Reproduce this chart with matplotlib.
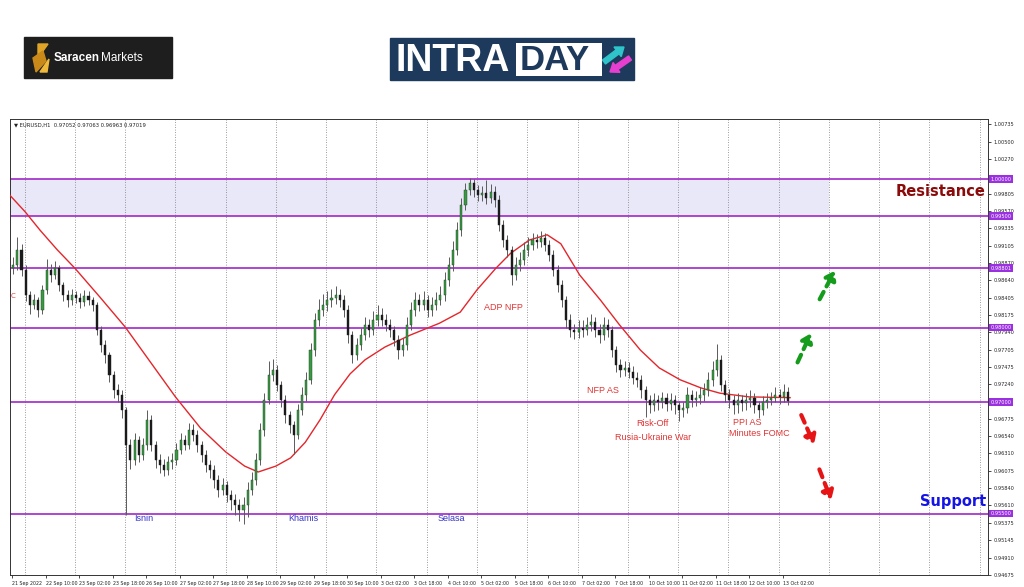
import numpy as np
import matplotlib
matplotlib.use("Agg")
import matplotlib.pyplot as plt
from matplotlib.patches import Rectangle, Polygon, FancyArrow

# EURUSD H1, candles grouped by 2 hours
closes = [0.9884, 0.9905, 0.9878, 0.9844, 0.9831, 0.9837, 0.9824, 0.9851, 0.9878, 0.9871,
          0.9880, 0.9857, 0.9844, 0.9837, 0.9844, 0.9840, 0.9835, 0.9843, 0.9837, 0.9831,
          0.9797, 0.9777, 0.9763, 0.9736, 0.9716, 0.9710, 0.9689, 0.9642, 0.9622, 0.9649,
          0.9629, 0.9642, 0.9676, 0.9642, 0.9622, 0.9615, 0.9609, 0.9619, 0.9622, 0.9636,
          0.9649, 0.9642, 0.9662, 0.9656, 0.9642, 0.9629, 0.9615, 0.9609, 0.9595, 0.9582,
          0.9588, 0.9575, 0.9568, 0.9562, 0.9555, 0.9562, 0.9582, 0.9595, 0.9622, 0.9662,
          0.9703, 0.9736, 0.9743, 0.9723, 0.9703, 0.9682, 0.9669, 0.9656, 0.9689, 0.9710,
          0.9730, 0.9770, 0.9810, 0.9824, 0.9831, 0.9837, 0.9840, 0.9844, 0.9837, 0.9824,
          0.9790, 0.9763, 0.9777, 0.9790, 0.9804, 0.9797, 0.9810, 0.9817, 0.9810, 0.9804,
          0.9797, 0.9784, 0.9770, 0.9777, 0.9804, 0.9824, 0.9837, 0.9831, 0.9837, 0.9824,
          0.9831, 0.9837, 0.9844, 0.9864, 0.9884, 0.9905, 0.9931, 0.9965, 0.9985, 0.9995,
          0.9985, 0.9978, 0.9981, 0.9975, 0.9983, 0.9972, 0.9938, 0.9918, 0.9905, 0.9871,
          0.9884, 0.9891, 0.9905, 0.9911, 0.9918, 0.9915, 0.9921, 0.9911, 0.9898, 0.9878,
          0.9857, 0.9837, 0.9810, 0.9797, 0.9794, 0.9800, 0.9797, 0.9804, 0.9808, 0.9797,
          0.9790, 0.9804, 0.9797, 0.9770, 0.9750, 0.9743, 0.9746, 0.9741, 0.9733, 0.9730,
          0.9716, 0.9703, 0.9696, 0.9703, 0.9700, 0.9705, 0.9697, 0.9703, 0.9696, 0.9689,
          0.9692, 0.9710, 0.9703, 0.9705, 0.9710, 0.9716, 0.9730, 0.9743, 0.9757, 0.9723,
          0.9710, 0.9703, 0.9696, 0.9703, 0.9699, 0.9703, 0.9705, 0.9696, 0.9689, 0.9700,
          0.9703, 0.9705, 0.9710, 0.9707, 0.9714, 0.9702]
highs = [0.9895, 0.9922, 0.9912, 0.9884, 0.9850, 0.9846, 0.9842, 0.9858, 0.9893, 0.9886,
         0.9890, 0.9884, 0.9862, 0.9851, 0.9852, 0.9850, 0.9847, 0.9851, 0.9849, 0.9842,
         0.9835, 0.9803, 0.9783, 0.9768, 0.9742, 0.9725, 0.9716, 0.9694, 0.9650, 0.9658,
         0.9655, 0.9652, 0.9690, 0.9682, 0.9648, 0.9630, 0.9624, 0.9628, 0.9632, 0.9645,
         0.9658, 0.9656, 0.9672, 0.9670, 0.9662, 0.9648, 0.9635, 0.9622, 0.9615, 0.9602,
         0.9598, 0.9594, 0.9582, 0.9576, 0.9570, 0.9572, 0.9592, 0.9606, 0.9632, 0.9672,
         0.9712, 0.9755, 0.9758, 0.9750, 0.9728, 0.9710, 0.9688, 0.9675, 0.9698, 0.9720,
         0.9740, 0.9780, 0.9820, 0.9838, 0.9845, 0.9850, 0.9852, 0.9856, 0.9852, 0.9844,
         0.9830, 0.9796, 0.9786, 0.9800, 0.9815, 0.9812, 0.9822, 0.9830, 0.9826, 0.9818,
         0.9812, 0.9803, 0.9790, 0.9786, 0.9814, 0.9834, 0.9848, 0.9846, 0.9849, 0.9844,
         0.9842, 0.9848, 0.9856, 0.9875, 0.9895, 0.9916, 0.9942, 0.9975, 0.9995, 1.0001,
         1.0000, 0.9992, 0.9990, 0.9998, 0.9993, 0.9990, 0.9978, 0.9945, 0.9925, 0.9910,
         0.9895, 0.9902, 0.9915, 0.9922, 0.9928, 0.9926, 0.9930, 0.9927, 0.9918, 0.9905,
         0.9884, 0.9864, 0.9843, 0.9818, 0.9805, 0.9810, 0.9810, 0.9815, 0.9818, 0.9815,
         0.9805, 0.9815, 0.9812, 0.9803, 0.9776, 0.9758, 0.9755, 0.9754, 0.9748, 0.9740,
         0.9736, 0.9722, 0.9710, 0.9712, 0.9710, 0.9714, 0.9712, 0.9712, 0.9710, 0.9702,
         0.9700, 0.9720, 0.9716, 0.9715, 0.9720, 0.9726, 0.9740, 0.9755, 0.9778, 0.9764,
         0.9730, 0.9718, 0.9710, 0.9712, 0.9710, 0.9712, 0.9716, 0.9712, 0.9702, 0.9708,
         0.9712, 0.9714, 0.9720, 0.9718, 0.9724, 0.9720]
lows = [0.9872, 0.9878, 0.9870, 0.9836, 0.9818, 0.9825, 0.9815, 0.9818, 0.9845, 0.9862,
        0.9865, 0.9850, 0.9836, 0.9828, 0.9831, 0.9833, 0.9827, 0.9829, 0.9830, 0.9822,
        0.9790, 0.9768, 0.9752, 0.9727, 0.9705, 0.9700, 0.9678, 0.9548, 0.9610, 0.9615,
        0.9620, 0.9622, 0.9636, 0.9634, 0.9612, 0.9604, 0.9600, 0.9602, 0.9610, 0.9615,
        0.9630, 0.9635, 0.9637, 0.9648, 0.9633, 0.9620, 0.9606, 0.9598, 0.9585, 0.9572,
        0.9575, 0.9565, 0.9555, 0.9548, 0.9540, 0.9536, 0.9545, 0.9575, 0.9588, 0.9615,
        0.9655, 0.9698, 0.9728, 0.9715, 0.9694, 0.9672, 0.9658, 0.9630, 0.9650, 0.9682,
        0.9702, 0.9724, 0.9762, 0.9802, 0.9816, 0.9822, 0.9828, 0.9832, 0.9828, 0.9815,
        0.9780, 0.9752, 0.9756, 0.9770, 0.9783, 0.9788, 0.9790, 0.9802, 0.9802, 0.9795,
        0.9788, 0.9775, 0.9758, 0.9762, 0.9770, 0.9797, 0.9816, 0.9822, 0.9824, 0.9815,
        0.9816, 0.9824, 0.9830, 0.9836, 0.9856, 0.9876, 0.9898, 0.9924, 0.9958, 0.9978,
        0.9976, 0.9970, 0.9970, 0.9966, 0.9968, 0.9962, 0.9930, 0.9908, 0.9895, 0.9858,
        0.9864, 0.9876, 0.9884, 0.9897, 0.9904, 0.9907, 0.9908, 0.9903, 0.9890, 0.9870,
        0.9848, 0.9828, 0.9800, 0.9788, 0.9785, 0.9786, 0.9788, 0.9790, 0.9796, 0.9788,
        0.9780, 0.9783, 0.9788, 0.9760, 0.9740, 0.9734, 0.9735, 0.9732, 0.9724, 0.9720,
        0.9706, 0.9680, 0.9686, 0.9688, 0.9690, 0.9692, 0.9688, 0.9689, 0.9684, 0.9674,
        0.9680, 0.9686, 0.9694, 0.9695, 0.9698, 0.9702, 0.9708, 0.9722, 0.9735, 0.9715,
        0.9700, 0.9692, 0.9684, 0.9686, 0.9688, 0.9690, 0.9694, 0.9685, 0.9678, 0.9682,
        0.9692, 0.9696, 0.9700, 0.9698, 0.9700, 0.9696]
first_open = 0.9880

# moving average (red line): bar index, price
ma_bar = [-1, 6.2, 13.4, 21.5, 30, 42, 54, 66, 78, 90, 102, 111, 117.5, 126, 133, 140,
          147, 154, 161.4, 168.6, 178, 190, 204, 214, 222, 231, 238, 247, 255.5, 262, 271,
          281, 290, 300, 309, 319, 329, 338, 352, 371.5]
ma_val = [0.9978, 0.9956, 0.9931, 0.9905, 0.9880, 0.9841, 0.9801, 0.9754, 0.9707, 0.9665,
          0.9633, 0.9614, 0.9606, 0.9614, 0.9625, 0.9646, 0.9676, 0.9710, 0.9738, 0.9757,
          0.9774, 0.9790, 0.9806, 0.9821, 0.9851, 0.9880, 0.9900, 0.9918, 0.9925, 0.9913,
          0.9871, 0.9837, 0.9804, 0.9770, 0.9746, 0.9730, 0.9719, 0.9712, 0.9707, 0.9706]

levels = [1.00000, 0.99500, 0.98801, 0.98000, 0.97000, 0.95500]
level_labels = ["1.00000", "0.99500", "0.98801", "0.98000", "0.97000", "0.95500"]
resist_zone = (0.99500, 1.00000)

ytick_vals = [1.00735, 1.00500, 1.00270, 0.99805, 0.99570, 0.99335, 0.99105, 0.98870,
              0.98640, 0.98405, 0.98175, 0.97940, 0.97705, 0.97475, 0.97240, 0.96775,
              0.96540, 0.96310, 0.96075, 0.95840, 0.95610, 0.95375, 0.95145, 0.94910, 0.94675]

xtick_labels = ["21 Sep 2022", "22 Sep 10:00", "23 Sep 02:00", "23 Sep 18:00", "26 Sep 10:00",
                "27 Sep 02:00", "27 Sep 18:00", "28 Sep 10:00", "29 Sep 02:00", "29 Sep 18:00",
                "30 Sep 10:00", "3 Oct 02:00", "3 Oct 18:00", "4 Oct 10:00", "5 Oct 02:00",
                "5 Oct 18:00", "6 Oct 10:00", "7 Oct 02:00", "7 Oct 18:00", "10 Oct 10:00",
                "11 Oct 02:00", "11 Oct 18:00", "12 Oct 10:00", "13 Oct 02:00"]
bars_per_label = 16
bars_per_candle = 2

# notes on the chart (bar index, price, text)
day_notes = [(62.6, "Isnin"), (139, "Khamis"), (209.6, "Selasa")]
day_note_price = 0.9543
news_notes = [(234.5, 0.9827, "ADP NFP"), (282, 0.9716, "NFP AS"), (306, 0.9671, "Risk-Off"),
              (306, 0.9653, "Rusia-Ukraine War"), (351, 0.9673, "PPI AS"),
              (357, 0.9658, "Minutes FOMC")]
up_arrows = [((374.5, 0.9750), (382, 0.9796)), ((385, 0.9835), (393.5, 0.9880))]
down_arrows = [((376.3, 0.9686), (383.5, 0.9640)), ((385, 0.9613), (391.6, 0.9565))]

fig = plt.figure(figsize=(10.24, 5.87), dpi=100)
fig.patch.set_facecolor("white")

# ---- logos on top (pixel coords) ----
lg = fig.add_axes([0, 0, 1, 1])
lg.set_xlim(0, 1024)
lg.set_ylim(587, 0)
lg.axis("off")
lg.add_patch(Rectangle((24, 37), 148, 41, color="#1e1e1e"))
lg.add_patch(Polygon([(38, 44), (48, 44), (38, 58)], color="#e0a526"))
lg.add_patch(Polygon([(33, 58), (43, 51), (46, 61), (36, 72)], color="#c98a1a"))
lg.add_patch(Polygon([(40, 72), (49, 59), (47, 72)], color="#f0bb3a"))
t1 = lg.text(54, 58, "Saracen", color="white", fontsize=8.5, fontweight="bold",
             family="Liberation Sans", va="center")
lg.annotate("Markets", xy=(1, 0.5), xycoords=t1, xytext=(0.5, 0), textcoords="offset points",
            color="white", fontsize=8.5, family="Liberation Sans", va="center", ha="left")
lg.add_patch(Rectangle((390, 38), 244, 42, color="#1d3a5c"))
lg.add_patch(Rectangle((516, 43), 86, 33, facecolor="white", edgecolor="none"))
lg.text(396, 61, "INTRA", color="white", fontsize=27, fontweight="bold",
        family="Liberation Sans", va="center")
lg.text(520, 61, "DAY", color="#1d3a5c", fontsize=25, fontweight="bold",
        family="Liberation Sans", va="center")
lg.add_patch(FancyArrow(604, 62, 20, -15, width=5, head_width=12, head_length=8,
                        color="#2ec4c9", length_includes_head=True))
lg.add_patch(FancyArrow(630, 58, -20, 14, width=5, head_width=12, head_length=8,
                        color="#e63fd0", length_includes_head=True))

# ---- main chart ----
ax = fig.add_axes([10 / 1024, 1 - 575 / 587, 978 / 1024, 456 / 587])
ax.set_facecolor("white")

n = len(closes)
x = np.arange(n) * bars_per_candle + 0.5
opens = np.r_[first_open, closes[:-1]]
c = np.array(closes)
up = c >= opens

ax.axhspan(resist_zone[0], resist_zone[1], xmin=0, xmax=(390 + 1) / 467,
           color="#e8e8f8", zorder=0, lw=0)

for gx in range(6, 466, 24):
    ax.axvline(gx, color="#7a7a7a", lw=0.6, ls=(0, (1, 2)), zorder=1)

for lv in levels:
    ax.axhline(lv, color="#a028c8", lw=1.2, zorder=2)

ax.plot(ma_bar, ma_val, color="#e3262b", lw=1.0, zorder=3)

ax.vlines(x, lows, highs, color="#5a5a5a", lw=0.7, zorder=4)
body_lo = np.minimum(opens, c)
body_h = np.maximum(np.abs(c - opens), 0.00005)
ax.bar(x[up], body_h[up], bottom=body_lo[up], width=1.0, color="#3a9a44",
       edgecolor="#1c3d1c", lw=0.3, zorder=5)
ax.bar(x[~up], body_h[~up], bottom=body_lo[~up], width=1.0, color="#1a1a1a",
       edgecolor="#1a1a1a", lw=0.3, zorder=5)

ax.set_xlim(-1, 466)
ax.set_ylim(0.94676, 1.00807)

xt = np.arange(len(xtick_labels)) * bars_per_label
ax.set_xticks(xt)
ax.set_xticklabels(xtick_labels, fontsize=3.4, ha="left", color="#222222")
ax.tick_params(axis="x", length=2, width=0.5, pad=2)

ax.yaxis.tick_right()
ax.set_yticks(ytick_vals)
ax.set_yticklabels([f"{v:.5f}" for v in ytick_vals], fontsize=3.6, color="#222222")
ax.tick_params(axis="y", length=2, width=0.5, pad=2)
for sp in ax.spines.values():
    sp.set_linewidth(0.7)
    sp.set_color("#333333")

for lv, lab in zip(levels, level_labels):
    ax.text(1.0025, lv, lab, transform=ax.get_yaxis_transform(), fontsize=3.6, color="white",
            va="center", ha="left",
            bbox=dict(boxstyle="square,pad=0.25", facecolor="#9b30e0", edgecolor="none"))

ax.text(0.004, 0.993, "\u25bc EURUSD,H1  0.97052 0.97063 0.96963 0.97019", transform=ax.transAxes,
        fontsize=3.8, va="top", ha="left", color="#222222")
ax.text(-0.6, 0.9843, "C", fontsize=5, color="#e04040", va="center", ha="left")

ax.text(465, 0.9983, "Resistance", fontsize=10.5, fontweight="bold", color="#8b0a0a",
        ha="right", va="center", zorder=6)
ax.text(465, 0.9566, "Support", fontsize=10.5, fontweight="bold", color="#1414e6",
        ha="right", va="center", zorder=6)

for bx, lab in day_notes:
    ax.text(bx, day_note_price, lab, fontsize=6.5, color="#3535c8", ha="center", va="center",
            family="Liberation Sans", zorder=6)
for bx, py, lab in news_notes:
    ax.text(bx, py, lab, fontsize=6.5, color="#e03535", ha="center", va="center",
            family="Liberation Sans", zorder=6)

for (s, e) in up_arrows:
    ax.annotate("", xy=e, xytext=s, zorder=6,
                arrowprops=dict(arrowstyle="-|>,head_length=0.5,head_width=0.35",
                                color="#169c1c", lw=3, ls=(0, (2, 1.5))))
for (s, e) in down_arrows:
    ax.annotate("", xy=e, xytext=s, zorder=6,
                arrowprops=dict(arrowstyle="-|>,head_length=0.5,head_width=0.35",
                                color="#e61414", lw=3, ls=(0, (2, 1.5))))

fig.savefig("out.png", dpi=100)
